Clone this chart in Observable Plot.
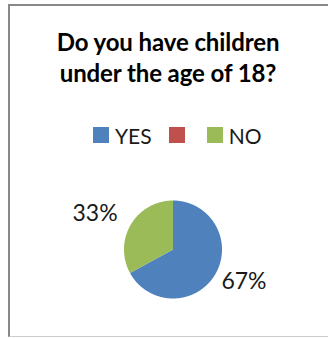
<!DOCTYPE html>
<html><head><meta charset="utf-8">
<script src="https://cdn.jsdelivr.net/npm/d3@7"></script>
<script src="https://cdn.jsdelivr.net/npm/@observablehq/plot@0.6"></script>
<style>
html,body{margin:0;padding:0;background:#fff;}
#wrap{position:relative;width:328px;height:338px;overflow:hidden;font-family:Lato,"Open Sans",sans-serif;}
#frame{position:absolute;left:8px;top:4px;width:340px;height:333px;border-left:2px solid #888;border-top:2px solid #888;border-bottom:1px solid #ccc;box-sizing:border-box;}
#title{position:absolute;left:8px;width:320px;top:26px;text-align:center;font-weight:bold;font-size:24px;line-height:31px;color:#000;letter-spacing:-0.1px;}
#legend{position:absolute;left:93px;top:125px;height:20px;display:flex;align-items:center;font-size:21px;color:#1a1a1a;}
.item{display:flex;align-items:center;}
.sw{width:16px;height:16px;margin-right:6px;}
#chart{position:absolute;left:0;top:0;}
</style>
</head><body>
<div id="wrap">
  <div id="frame"></div>
  <div id="title">Do you have children<br>under the age of 18?</div>
  <div id="legend"></div>
  <div id="chart"></div>
</div>
<script>
const title = "Do you have children under the age of 18?";
const categories = ["YES", "", "NO"];
const values = [67, 0, 33];
const colors = ["#4F81BD", "#C0504D", "#9BBB59"];
const valueLabels = ["67%", "", "33%"];

// legend
const legend = document.getElementById("legend");
categories.forEach((c, i) => {
  const item = document.createElement("div");
  item.className = "item";
  item.style.marginRight = i === 0 ? "17px" : (i === 1 ? "16px" : "0");
  const sw = document.createElement("div");
  sw.className = "sw";
  sw.style.background = colors[i];
  item.appendChild(sw);
  const t = document.createElement("span");
  t.textContent = c;
  item.appendChild(t);
  legend.appendChild(item);
});

// pie geometry from data
const table = categories.map((c, i) => ({key: i, cat: c, value: values[i], label: valueLabels[i]}));
const arcs = d3.pie().sort(null).value(d => d.value)(table);
const pts = [];
const labels = [];
arcs.forEach(a => {
  if (a.endAngle - a.startAngle <= 0) return;
  pts.push({key: a.data.key, x: 0, y: 0});
  const n = Math.max(2, Math.ceil((a.endAngle - a.startAngle) / 0.01));
  for (let k = 0; k <= n; k++) {
    const t = a.startAngle + (a.endAngle - a.startAngle) * k / n;
    pts.push({key: a.data.key, x: Math.sin(t), y: Math.cos(t)});
  }
  const m = (a.startAngle + a.endAngle) / 2;
  labels.push({x: 1.1 * Math.sin(m), y: 1.1 * Math.cos(m), text: a.data.label, right: Math.sin(m) >= 0});
});

const plot = Plot.plot({
  width: 328, height: 338, margin: 0,
  x: {domain: [-1, 1], range: [123.5, 221.5], axis: null},
  y: {domain: [-1, 1], range: [298, 200], axis: null},
  color: {domain: categories.map((c, i) => i), range: colors},
  style: {background: "transparent", overflow: "visible"},
  marks: [
    Plot.line(pts, {x: "x", y: "y", z: "key", fill: "key", stroke: "none"}),
    Plot.text(labels.filter(d => d.right), {x: "x", y: "y", text: "text", textAnchor: "start", dx: 2, dy: 5, fontSize: 23, fontFamily: "Lato", fill: "#1a1a1a"}),
    Plot.text(labels.filter(d => !d.right), {x: "x", y: "y", text: "text", textAnchor: "end", dx: -9, dy: -8, fontSize: 23, fontFamily: "Lato", fill: "#1a1a1a"})
  ]
});
document.getElementById("chart").appendChild(plot);
</script>
</body></html>
